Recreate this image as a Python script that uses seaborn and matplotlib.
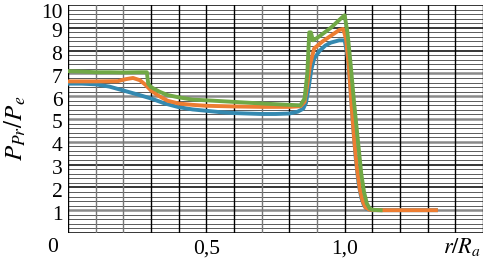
import numpy as np
import pandas as pd
import seaborn as sns
import matplotlib.pyplot as plt
import matplotlib.transforms as mtransforms

# curve data (r/Ra, P_Pr/P_e)
blue_x = [0.0, 0.05, 0.10, 0.15, 0.20, 0.25, 0.30, 0.35, 0.40, 0.45, 0.50, 0.55, 0.60, 0.65,
          0.70, 0.75, 0.80, 0.83, 0.85, 0.86, 0.87, 0.88, 0.89, 0.91, 0.93, 0.95, 0.98, 1.00,
          1.01, 1.02, 1.03, 1.04, 1.05, 1.06, 1.07, 1.08, 1.10, 1.20, 1.33]
blue_y = [6.55, 6.55, 6.52, 6.42, 6.25, 6.08, 5.90, 5.68, 5.52, 5.42, 5.36, 5.30, 5.26, 5.24,
          5.22, 5.22, 5.24, 5.32, 5.45, 5.70, 6.40, 7.20, 7.65, 8.00, 8.22, 8.35, 8.45, 8.45,
          7.80, 6.50, 4.80, 3.30, 2.20, 1.55, 1.20, 1.05, 1.00, 1.00, 1.00]

orange_x = [0.0, 0.10, 0.18, 0.21, 0.235, 0.26, 0.28, 0.30, 0.33, 0.36, 0.40, 0.45, 0.50, 0.60,
            0.70, 0.80, 0.84, 0.855, 0.865, 0.875, 0.89, 0.92, 0.95, 0.98, 0.995, 1.005, 1.015,
            1.025, 1.035, 1.045, 1.055, 1.065, 1.075, 1.09, 1.12, 1.33]
orange_y = [6.65, 6.65, 6.66, 6.75, 6.80, 6.70, 6.50, 6.25, 6.00, 5.80, 5.68, 5.62, 5.58, 5.55,
            5.53, 5.53, 5.56, 5.75, 6.50, 7.40, 8.10, 8.40, 8.65, 8.90, 8.95, 8.50, 7.30,
            5.60, 4.00, 2.80, 1.90, 1.40, 1.12, 1.02, 1.00, 1.00]

green_x = [0.0, 0.05, 0.10, 0.15, 0.20, 0.25, 0.285, 0.29, 0.30, 0.33, 0.36, 0.40, 0.45, 0.50,
           0.60, 0.70, 0.80, 0.84, 0.855, 0.865, 0.872, 0.878, 0.885, 0.90, 0.95, 0.99, 1.00,
           1.01, 1.02, 1.035, 1.05, 1.06, 1.07, 1.08, 1.09, 1.10, 1.13]
green_y = [7.10, 7.08, 7.05, 7.05, 7.04, 7.05, 7.05, 6.55, 6.40, 6.20, 6.05, 5.95, 5.85, 5.82,
           5.75, 5.68, 5.62, 5.60, 5.90, 7.00, 8.80, 8.80, 8.45, 8.55, 9.00, 9.45, 9.55,
           8.80, 7.60, 5.60, 3.80, 2.60, 1.80, 1.30, 1.08, 1.02, 1.00]

y_ticks = [1, 2, 3, 4, 5, 6, 7, 8, 9, 10]
x_ticks = [0.5, 1.0]
x_labels = ["0,5", "1,0"]

plt.rcParams['font.family'] = 'serif'
plt.rcParams['font.serif'] = ['Liberation Serif', 'DejaVu Serif']
plt.rcParams['mathtext.fontset'] = 'stix'

fig = plt.figure(figsize=(4.93, 2.66), dpi=100)
ax = fig.add_axes([68 / 493, 1 - 233 / 266, (483 - 68) / 493, (233 - 5) / 266])

# grid paper look
for v in np.arange(0, 10.01, 0.2):
    if abs(v - round(v)) > 1e-6:
        ax.axhline(v, color='#5a5a5a', lw=0.7, zorder=1)
for v in range(0, 11):
    if v in (1, 4, 5, 6, 7):
        ax.axhline(v, color='#8a8a8a', lw=1.8, zorder=1)
    else:
        ax.axhline(v, color='black', lw=1.1, zorder=1)
for i, v in enumerate(np.arange(0, 1.51, 0.1)):
    c = '#777777' if i in (1, 2, 7, 9) else 'black'
    ax.axvline(v, color=c, lw=1.0, zorder=1)

df_b = pd.DataFrame({'x': blue_x, 'y': blue_y})
df_o = pd.DataFrame({'x': orange_x, 'y': orange_y})
df_g = pd.DataFrame({'x': green_x, 'y': green_y})
sns.lineplot(data=df_b, x='x', y='y', ax=ax, color='#3489b0', lw=2.8, sort=False, estimator=None, zorder=3)
sns.lineplot(data=df_o, x='x', y='y', ax=ax, color='#ed7d31', lw=2.8, sort=False, estimator=None, zorder=4)
sns.lineplot(data=df_g, x='x', y='y', ax=ax, color='#70a845', lw=2.8, sort=False, estimator=None, zorder=5)

ax.set_xlim(0, 1.5)
ax.set_ylim(0, 10)
ax.set_yticks(y_ticks)
ax.set_yticklabels([str(t) for t in y_ticks])
ax.set_xticks(x_ticks)
ax.set_xticklabels(x_labels)
ax.tick_params(axis='both', length=0, labelsize=15.5)
ax.tick_params(axis='y', pad=4)
ax.tick_params(axis='x', pad=5)
for s in ax.spines.values():
    s.set_visible(False)
ax.set_xlabel('')
ax.set_ylabel('')

# labels sit a little below their grid lines in the original
for lab in ax.get_yticklabels():
    dy = -6 if lab.get_text() == '10' else -2.5
    lab.set_transform(lab.get_transform() + mtransforms.ScaledTranslation(0, dy / 100, fig.dpi_scale_trans))

fig.text(53 / 493, 1 - 247 / 266, '0', fontsize=15.5, ha='center', va='center')
fig.text(462 / 493, 1 - 247 / 266, r'$r/R_a$', fontsize=16, ha='center', va='center')
fig.text(15 / 493, 1 - 128 / 266, r'$P_{Pr}/P_e$', fontsize=18, ha='center', va='center', rotation=90)

fig.savefig('out.png', dpi=100)
